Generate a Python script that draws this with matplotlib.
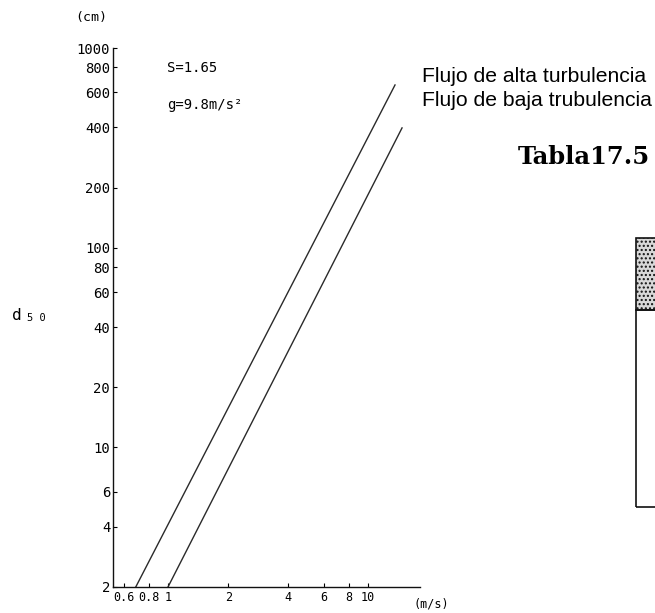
import matplotlib
matplotlib.use('Agg')
import matplotlib.pyplot as plt
from matplotlib.patches import Rectangle

# datos (log-log)
v_alta = [0.69, 13.65]      # m/s
d_alta = [2.0, 653.0]       # cm
v_baja = [1.0, 14.8]
d_baja = [2.0, 398.0]

y_ticks = [2, 4, 6, 10, 20, 40, 60, 80, 100, 200, 400, 600, 800, 1000]
x_ticks = [0.6, 0.8, 1, 2, 4, 6, 8, 10]
x_labels = ['0.6', '0.8', '1', '2', '4', '6', '8', '10']

W, H = 655, 613
fig = plt.figure(figsize=(W / 100, H / 100), dpi=100)
mono = 'DejaVu Sans Mono'

# ejes: pixel 113..420 en x, 48..587 en y
ax = fig.add_axes([113 / W, (H - 587) / H, (420 - 113) / W, (587 - 48) / H])
ax.set_xscale('log')
ax.set_yscale('log')
ax.set_xlim(0.531, 18.2)
ax.set_ylim(2, 1000)

ax.plot(v_alta, d_alta, color='#2a2a2a', lw=1.0)
ax.plot(v_baja, d_baja, color='#2a2a2a', lw=1.0)

for s in ['top', 'right']:
    ax.spines[s].set_visible(False)
for s in ['left', 'bottom']:
    ax.spines[s].set_linewidth(1.0)
    ax.spines[s].set_color('#111111')

ax.set_yticks(y_ticks)
ax.set_yticklabels([str(t) for t in y_ticks], family=mono, fontsize=10)
ax.set_xticks(x_ticks)
ax.set_xticklabels(x_labels, family=mono, fontsize=8.5)
ax.minorticks_off()
ax.tick_params(axis='y', direction='in', length=3, width=0.8, pad=2)
ax.tick_params(axis='x', direction='in', length=3, width=0.8, pad=3)

# textos del grafico
fig.text(75 / W, 1 - 17 / H, '(cm)', family=mono, fontsize=9.5, va='center')
fig.text(414 / W, 1 - 604 / H, '(m/s)', family=mono, fontsize=8.5, va='center')
fig.text(12 / W, 1 - 315 / H, 'd', family=mono, fontsize=11.5, va='center')
fig.text(27 / W, 1 - 318 / H, '5 0', family=mono, fontsize=7.5, va='center')
fig.text(167 / W, 1 - 68 / H, 'S=1.65', family=mono, fontsize=10, va='center')
fig.text(167 / W, 1 - 105 / H, 'g=9.8m/s²', family=mono, fontsize=10, va='center')

fig.text(422 / W, 1 - 76 / H, 'Flujo de alta turbulencia',
         family='Liberation Sans', fontsize=15.2, va='center')
fig.text(422 / W, 1 - 100 / H, 'Flujo de baja trubulencia',
         family='Liberation Sans', fontsize=15.2, va='center')
fig.text(518 / W, 1 - 157 / H, 'Tabla17.5', family='DejaVu Serif',
         fontweight='bold', fontsize=17.5, va='center')

# tabla recortada a la derecha
fig.patches.append(Rectangle((636 / W, 1 - 310 / H), 30 / W, 72 / H,
                             transform=fig.transFigure, facecolor='#d8d8d8',
                             edgecolor='#111111', lw=1.2, hatch='....'))
fig.patches.append(Rectangle((636 / W, 1 - 507 / H), 30 / W, 197 / H,
                             transform=fig.transFigure, facecolor='none',
                             edgecolor='#111111', lw=1.2))

fig.savefig('out.png', dpi=100)
